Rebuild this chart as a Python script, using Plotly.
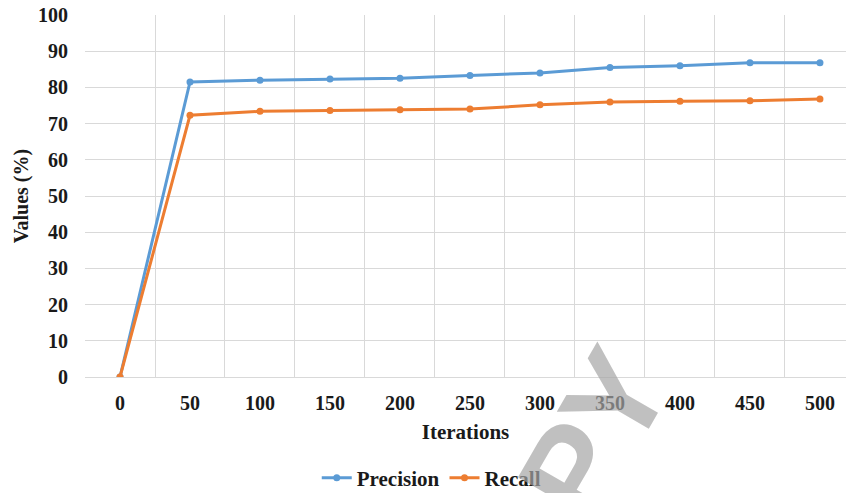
import plotly.graph_objects as go

iterations = [0, 50, 100, 150, 200, 250, 300, 350, 400, 450, 500]
precision = [0, 81.5, 82.0, 82.3, 82.5, 83.3, 84.0, 85.5, 86.0, 86.8, 86.8]
recall = [0, 72.3, 73.4, 73.6, 73.8, 74.0, 75.2, 76.0, 76.2, 76.3, 76.8]
y_ticks = [0, 10, 20, 30, 40, 50, 60, 70, 80, 90, 100]

BLUE = "#5B9BD5"
ORANGE = "#ED7D31"
GRID = "#D9D9D9"
SERIF = "Liberation Serif, Times New Roman, serif"

fig = go.Figure()
fig.add_trace(go.Scatter(
    x=iterations, y=precision, name="Precision", mode="lines+markers",
    line=dict(color=BLUE, width=3), marker=dict(color=BLUE, size=7),
))
fig.add_trace(go.Scatter(
    x=iterations, y=recall, name="Recall", mode="lines+markers",
    line=dict(color=ORANGE, width=3), marker=dict(color=ORANGE, size=7),
))

fig.update_layout(
    width=846, height=493,
    margin=dict(l=85, r=0, t=15, b=116, autoexpand=False),
    plot_bgcolor="white", paper_bgcolor="white",
    font=dict(family=SERIF, color="#1a1a1a"),
    showlegend=True,
    legend=dict(
        orientation="h", x=0.455, xanchor="center", y=-0.279, yanchor="middle",
        font=dict(family=SERIF, size=21, color="#1a1a1a", weight="bold"),
        itemwidth=30, traceorder="normal",
    ),
    xaxis=dict(
        range=[-25, 518.6], automargin=False,
        tickmode="array", tickvals=iterations, ticktext=[str(v) for v in iterations],
        showgrid=False, zeroline=False, showline=False,
        tickfont=dict(family=SERIF, size=20, weight="bold"),
        ticklabelstandoff=12,
        minor=dict(tick0=-25, dtick=50, showgrid=True, gridcolor=GRID, gridwidth=1, ticks=""),
        title=dict(text="Iterations", font=dict(family=SERIF, size=21, weight="bold"), standoff=11),
    ),
    yaxis=dict(
        range=[0, 100], automargin=False,
        tickmode="array", tickvals=y_ticks, ticktext=[str(v) for v in y_ticks],
        showgrid=True, gridcolor=GRID, gridwidth=1,
        zeroline=True, zerolinecolor=GRID, zerolinewidth=1, showline=False,
        tickfont=dict(family=SERIF, size=20, weight="bold"),
        ticklabelstandoff=16,
        title=dict(text="Values (%)", font=dict(family=SERIF, size=20, weight="bold"), standoff=4),
    ),
)

# faint watermark letters
for ch, px, py in [("P", 572, 470), ("Y", 614, 399)]:
    fig.add_annotation(
        text=ch, xref="paper", yref="paper",
        x=(px - 85) / 761, y=(493 - 116 - py) / 362,
        xanchor="center", yanchor="middle", showarrow=False,
        textangle=-60,
        font=dict(family="Liberation Sans, Arial, sans-serif", size=128, color="rgba(165,165,165,0.7)", weight="bold"),
    )

fig.write_html("out.html")
